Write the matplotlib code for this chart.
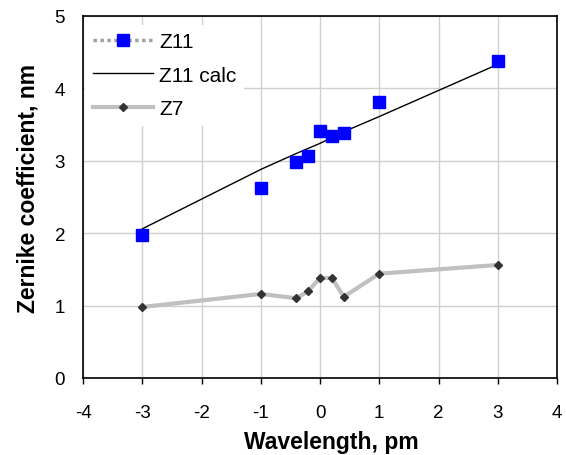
import matplotlib
matplotlib.use("Agg")
import matplotlib.pyplot as plt
from matplotlib.lines import Line2D

plt.rcParams['font.family'] = ['Liberation Sans', 'DejaVu Sans']
plt.rcParams['axes.unicode_minus'] = False

# measured Z11 and Z7 coefficients vs wavelength offset
wavelength = [-3, -1, -0.4, -0.2, 0, 0.2, 0.4, 1, 3]
z11 = [1.97, 2.62, 2.98, 3.07, 3.41, 3.34, 3.38, 3.81, 4.37]
z11_calc = [2.06, 2.88, 3.10, 3.17, 3.24, 3.32, 3.40, 3.61, 4.33]
z7 = [0.98, 1.16, 1.10, 1.20, 1.38, 1.38, 1.12, 1.44, 1.56]

fig = plt.figure(figsize=(5.66, 4.56), dpi=100)
ax = fig.add_axes([0.147, 0.169, 0.837, 0.794])

ax.plot(wavelength, z11_calc, color='black', lw=1.0, zorder=3)
ax.plot(wavelength, z7, color='#c0c0c0', lw=3, marker='D', ms=4.5,
        mfc='#333333', mec='#333333', zorder=3)
ax.plot(wavelength, z11, ls='none', marker='s', ms=8, color='#0000ff',
        mec='#0000ff', zorder=4)

ax.set_xlim(-4, 4)
ax.set_ylim(0, 5)
ax.set_xticks(range(-4, 5))
ax.set_yticks(range(0, 6))
ax.grid(True, color='#d0d0d0', lw=1)
ax.set_axisbelow(True)
ax.tick_params(axis='x', direction='out', length=4.5, width=1, labelsize=13.5, pad=14)
ax.tick_params(axis='y', length=0, labelsize=13.5, pad=13)
for s in ax.spines.values():
    s.set_linewidth(1.2)

ax.set_xlabel('Wavelength, pm', fontsize=16.5, fontweight='bold')
ax.set_ylabel('Zernike coefficient, nm', fontsize=16.5, fontweight='bold')
ax.xaxis.set_label_coords(0.523, -0.143)
ax.yaxis.set_label_coords(-0.092, 0.526)

handles = [
    Line2D([], [], color='#a0a0a0', ls=(0, (1, 1)), lw=2.5, marker='s', ms=8,
           mfc='#0000ff', mec='#0000ff'),
    Line2D([], [], color='black', lw=1.0),
    Line2D([], [], color='#c0c0c0', lw=3, marker='D', ms=4.5,
           mfc='#333333', mec='#333333'),
]
leg = ax.legend(handles, ['Z11', 'Z11 calc', 'Z7'], loc='upper left',
                bbox_to_anchor=(0.0, 0.981), fontsize=15, frameon=True,
                facecolor='white', edgecolor='none', framealpha=1,
                handlelength=2.9, labelspacing=0.7, handletextpad=0.3,
                borderaxespad=0.1, borderpad=0.35, fancybox=False)
leg.set_zorder(5)

fig.savefig('out.png', dpi=100)
